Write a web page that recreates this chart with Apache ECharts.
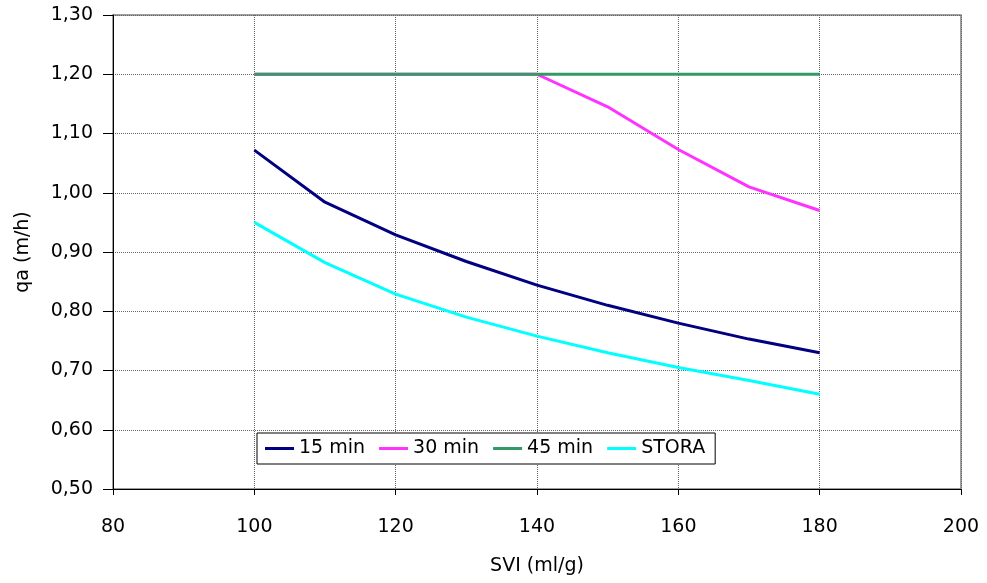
<!DOCTYPE html>
<html><head><meta charset="utf-8">
<script src="https://cdn.jsdelivr.net/npm/echarts@6/dist/echarts.min.js"></script>
<style>html,body{margin:0;padding:0;background:#fff}#c{width:987px;height:583px}</style>
</head><body><div id="c"></div>
<script>
const svi = [100, 110, 120, 130, 140, 150, 160, 170, 180];
const min15 = [1.072, 0.984, 0.929, 0.884, 0.844, 0.810, 0.780, 0.753, 0.730];
const min30 = [1.20, 1.20, 1.20, 1.20, 1.20, 1.145, 1.073, 1.010, 0.970];
const min45 = [1.20, 1.20, 1.20, 1.20, 1.20, 1.20, 1.20, 1.20, 1.20];
const stora = [0.950, 0.882, 0.829, 0.790, 0.758, 0.730, 0.705, 0.683, 0.660];
const seriesNames = ['15 min', '30 min', '45 min', 'STORA'];
const colors = ['#000080', '#FF33FF', '#339966', '#00FFFF'];
const yTicks = {min: 0.5, max: 1.3, interval: 0.1};
const xTicks = {min: 80, max: 200, interval: 20};

const pair = arr => svi.map((x, i) => [x, arr[i]]);
const font = 'DejaVu Sans, Open Sans, sans-serif';
const fs = 19;
const chart = echarts.init(document.getElementById('c'));
chart.setOption({
  animation: false,
  grid: {left: 113, right: 26, top: 15, bottom: 94, show: true, borderColor: '#808080', borderWidth: 1.5},
  legend: {
    left: 257, top: 433, width: 474, height: 35,
    padding: [6, 10, 6, 8],
    borderColor: '#000', borderWidth: 1, backgroundColor: '#fff',
    itemWidth: 29, itemHeight: 3, itemGap: 14,
    icon: 'rect',
    textStyle: {fontFamily: font, fontSize: fs, color: '#000'},
    data: seriesNames
  },
  xAxis: {
    type: 'value', min: xTicks.min, max: xTicks.max, interval: xTicks.interval,
    name: 'SVI (ml/g)', nameLocation: 'middle', nameGap: 68,
    nameTextStyle: {fontFamily: font, fontSize: fs, color: '#000'},
    axisLine: {lineStyle: {color: '#000', width: 1}},
    axisTick: {show: true, inside: false, length: 6, lineStyle: {color: '#000'}},
    axisLabel: {fontFamily: font, fontSize: fs, color: '#000', margin: 29},
    splitLine: {show: true, lineStyle: {color: '#666', type: 'dotted', width: 1}}
  },
  yAxis: {
    type: 'value', min: yTicks.min, max: yTicks.max, interval: yTicks.interval,
    name: 'qa (m/h)', nameLocation: 'middle', nameGap: 80, nameRotate: 90,
    nameTextStyle: {fontFamily: font, fontSize: fs, color: '#000'},
    axisLine: {show: true, lineStyle: {color: '#000', width: 1}},
    axisTick: {show: true, length: 10, lineStyle: {color: '#000'}},
    axisLabel: {fontFamily: font, fontSize: fs, color: '#000', margin: 20,
      formatter: v => v.toFixed(2).replace('.', ',')},
    splitLine: {show: true, lineStyle: {color: '#666', type: 'dotted', width: 1}}
  },
  series: [
    {name: seriesNames[0], data: pair(min15)},
    {name: seriesNames[1], data: pair(min30)},
    {name: seriesNames[2], data: pair(min45)},
    {name: seriesNames[3], data: pair(stora)}
  ].map((s, i) => Object.assign(s, {
    type: 'line', showSymbol: false, symbol: 'none',
    lineStyle: {color: colors[i], width: 3},
    itemStyle: {color: colors[i]}
  }))
});
</script></body></html>
